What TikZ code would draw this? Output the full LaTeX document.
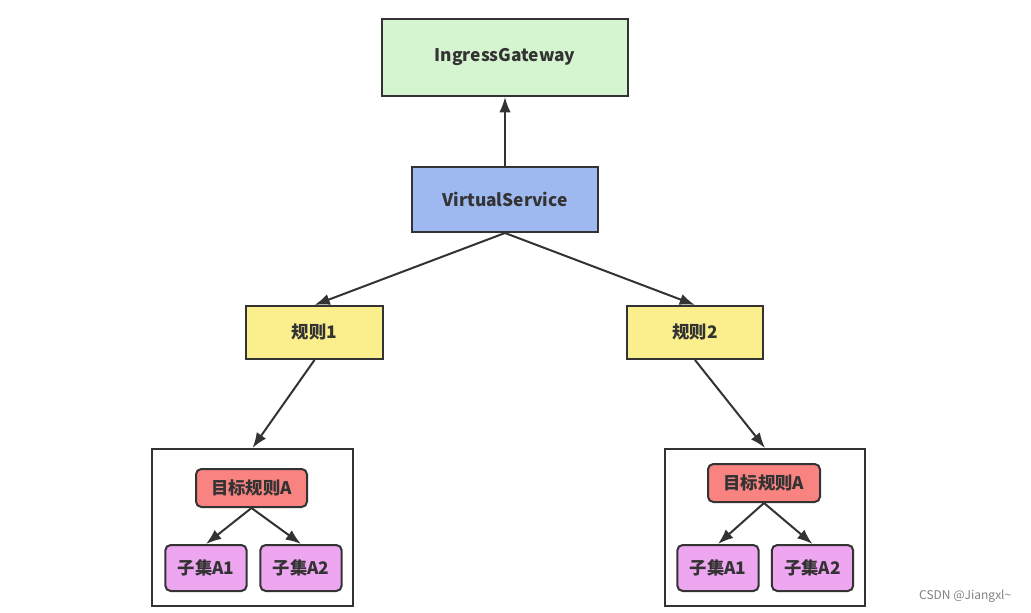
\documentclass[tikz,border=0pt]{standalone}
\usepackage{fontspec}
\setmainfont{Noto Sans CJK SC}
\usepackage{tikz}
\usetikzlibrary{arrows.meta,positioning}
\definecolor{ink}{RGB}{51,51,51}
\definecolor{gwgreen}{RGB}{213,244,208}
\definecolor{vsblue}{RGB}{158,184,240}
\definecolor{ruleyel}{RGB}{250,239,140}
\definecolor{drred}{RGB}{248,131,128}
\definecolor{subpur}{RGB}{238,166,240}

\begin{document}
\begin{tikzpicture}[x=0.75pt,y=-0.75pt,
  box/.style={draw=ink,line width=1.5pt,text=ink,font=\bfseries\fontsize{13}{15}\selectfont,
              inner sep=0pt,align=center},
  rbox/.style={box,rounded corners=4pt},
  link/.style={draw=ink,line width=1.5pt,-{Latex[length=11.5pt,width=8.5pt]}}]

\useasboundingbox (0,0) rectangle (1031,613);

% gateway and virtual service
\node[box,fill=gwgreen,minimum width=184.5pt,minimum height=57.75pt] (ig) at (505,57.5) {IngressGateway};
\node[box,fill=vsblue,minimum width=139.5pt,minimum height=48.75pt] (vs) at (505,199.5) {VirtualService};

% rules
\node[box,fill=ruleyel,minimum width=102.5pt,minimum height=39.75pt] (r1) at (314.5,332.5) {规则1};
\node[box,fill=ruleyel,minimum width=102.5pt,minimum height=39.75pt] (r2) at (695,332.5) {规则2};

% destination rule groups
\node[box,fill=white,minimum width=150.75pt,minimum height=117.75pt] (c1) at (252.5,527.5) {};
\node[rbox,fill=drred,minimum width=83.25pt,minimum height=28.5pt] (t1) at (251.5,488) {目标规则A};
\node[rbox,fill=subpur,minimum width=61pt,minimum height=34.5pt] (s11) at (206,568) {子集A1};
\node[rbox,fill=subpur,minimum width=61pt,minimum height=34.5pt] (s12) at (301,568) {子集A2};

\node[box,fill=white,minimum width=150pt,minimum height=117.75pt] (c2) at (765,527.5) {};
\node[rbox,fill=drred,minimum width=84pt,minimum height=28.5pt] (t2) at (764,483) {目标规则A};
\node[rbox,fill=subpur,minimum width=61pt,minimum height=34.5pt] (s21) at (718,568) {子集A1};
\node[rbox,fill=subpur,minimum width=61pt,minimum height=34.5pt] (s22) at (812.5,568) {子集A2};

% arrows
\draw[link] (vs.north) -- (ig.south);
\draw[link] (vs.south) -- (r1.north);
\draw[link] (vs.south) -- (r2.north);
\draw[link] (r1.south) -- (c1.north);
\draw[link] (r2.south) -- (c2.north);
\foreach \t/\a/\b in {t1/s11/s12, t2/s21/s22}{
  \draw[link] (\t.south) -- (\a.north);
  \draw[link] (\t.south) -- (\b.north);
}

% watermark
\node[text=gray,font=\fontsize{9}{10}\selectfont,anchor=east] (wm) at (1016,596) {CSDN @Jiangxl\textasciitilde};

\end{tikzpicture}
\end{document}
